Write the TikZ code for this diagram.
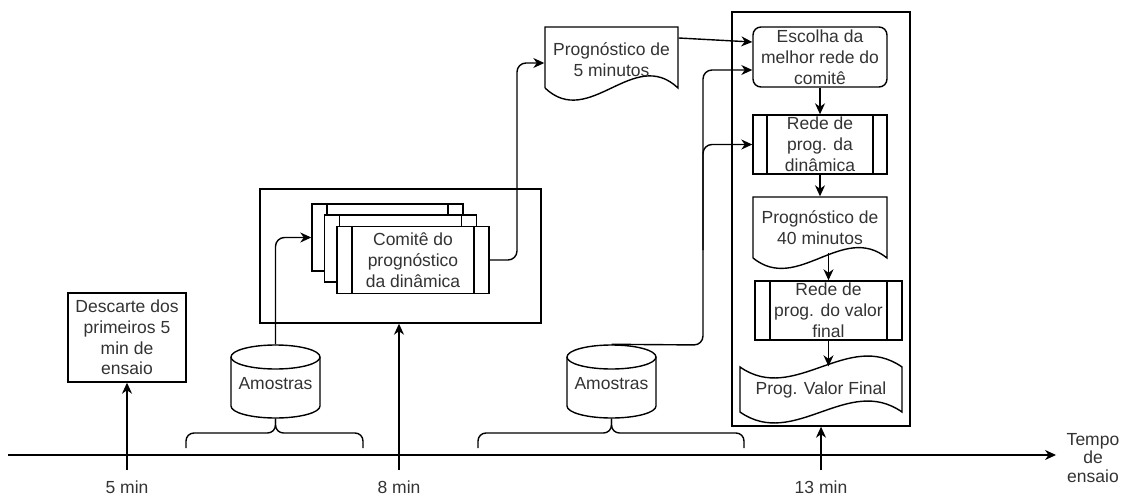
\documentclass[tikz,border=0pt]{standalone}
\usepackage{fontspec}
\setmainfont{Liberation Sans}
\usetikzlibrary{arrows.meta}
\begin{document}
\begin{tikzpicture}[x=1pt,y=-1pt,line width=1.4pt,
  every node/.style={font=\fontsize{17.5}{20.8}\selectfont,text=black!80,align=center,inner sep=0pt},
  arr/.style={-{Stealth[length=11pt,width=10pt,inset=3.5pt]}},
  plainbox/.style={draw,fill=white},
  procbar/.style={path picture={
      \draw ([xshift=#1]path picture bounding box.north west) -- ([xshift=#1]path picture bounding box.south west);
      \draw ([xshift=-#1]path picture bounding box.north east) -- ([xshift=-#1]path picture bounding box.south east);}},
  procbox/.style={draw,fill=white,procbar=#1},
]
% canvas
\useasboundingbox[fill=white] (0,0) rectangle (1125,495);

% time axis
\node[inner xsep=10pt,font=\fontsize{17.5}{18.6}\selectfont] (tempo) at (1093,458) {Tempo\\de\\ensaio};
\coordinate (t0) at (8,455);
\draw[arr] (t0) -- (t0 -| tempo.west);

% tick labels
\node (l5) at (127,487) {5 min};
\node (l8) at (399,487) {8 min};
\node (l13) at (821,487) {13 min};
\coordinate (c5) at (127,470);
\coordinate (c8) at (399,470);
\coordinate (c13) at (821,470);

% discarded start
\node[plainbox,minimum width=118pt,minimum height=89pt] (desc) at (127,337.5)
  {Descarte dos\\primeiros 5\\min de\\ensaio};
\draw[arr] (c5) -- (desc.south);

% committee panel
\node[plainbox,minimum width=281pt,minimum height=134pt] (pan1) at (400.5,256) {};
\draw[arr] (c8) -- (c8 |- pan1.south);
\node[procbox=15pt,minimum width=151pt,minimum height=67pt] (stkA) at (387.5,237.5) {};
\node[procbox=15pt,minimum width=152pt,minimum height=67pt] (stkB) at (400.5,248.5) {};
\node[procbox=15pt,minimum width=152pt,minimum height=67pt] (stkC) at (413,260)
  {Comitê do\\prognóstico\\da dinâmica};

% samples, first window
\node[minimum width=89pt,minimum height=73pt] (am1) at (275.5,381.5) {};
\draw[fill=white] (231,357) -- (231,406) arc[start angle=180,end angle=360,x radius=44.5pt,y radius=12pt] -- (320,357);
\draw (275.5,357) ellipse[x radius=44.5pt,y radius=12pt];
\node at (am1) [yshift=-2pt] {Amostras};
\draw[rounded corners=8pt] (186,448) -- (186,433) -- (275.5,433) -- (am1.south);
\draw[rounded corners=8pt] (363,448) -- (363,433) -- (275.5,433) -- (am1.south);
\draw[arr,rounded corners=9pt] (am1.north) |- (stkA.west);

% 5-minute forecast document
\draw[fill=white] (545,88) -- (545,27) -- (678,27) -- (678,88)
  .. controls (633.7,46) and (589.3,130) .. (545,88);
\node[minimum width=133pt] (doc5) at (611.5,60) {Prognóstico de\\5 minutos};
\coordinate (up5) at (517,63);
\draw[arr,rounded corners=9pt] (stkC.east) -| (up5) -- (doc5.west |- up5);

% final panel
\node[draw,minimum width=178pt,minimum height=414pt] (pan2) at (821,219) {};
\draw[arr] (c13) -- (pan2.south);

\node[draw,fill=white,rounded corners=8pt,minimum width=134pt,minimum height=60pt] (esc) at (820,57)
  {Escolha da\\melhor rede do\\comitê};
\draw[arr] (doc5.east |- 0,38) -- (esc.west |- 0,42);

\node[procbox=14pt,minimum width=134pt,minimum height=59pt] (rede1) at (820,144.5)
  {Rede de\\prog. da\\dinâmica};
\draw[arr] (esc.south) -- (rede1.north);

% 40-minute forecast document
\draw[fill=white] (753,258) -- (753,197) -- (887,197) -- (887,258)
  .. controls (842.3,222) and (797.7,294) .. (753,258);
\node[minimum width=134pt,minimum height=61pt] (doc40) at (820,227.5) {Prognóstico de\\40 minutos};
\draw[arr] (rede1.south) -- (doc40.north);

\node[procbox=15pt,minimum width=147pt,minimum height=59pt] (rede2) at (828.5,310.5)
  {Rede de\\prog. do valor\\final};
\draw[arr] ([yshift=6pt]doc40.south -| rede2.north) -- (rede2.north);

% final value tape
\draw[fill=white] (740,367) .. controls (794,405) and (848,329) .. (902,367) -- (902,412)
  .. controls (848,374) and (794,450) .. (740,412) -- cycle;
\node[minimum width=162pt,minimum height=45pt] (tape) at (821,389.5) {Prog. Valor Final};
\draw[arr] (rede2.south) -- (rede2.south |- tape.north);

% samples, second window
\node[minimum width=89pt,minimum height=73pt] (am2) at (611.5,381.5) {};
\draw[fill=white] (567,357) -- (567,406) arc[start angle=180,end angle=360,x radius=44.5pt,y radius=12pt] -- (656,357);
\draw (611.5,357) ellipse[x radius=44.5pt,y radius=12pt];
\node at (am2) [yshift=-2pt] {Amostras};
\draw[rounded corners=8pt] (478,448) -- (478,433) -- (611.5,433) -- (am2.south);
\draw[rounded corners=8pt] (744,448) -- (744,433) -- (611.5,433) -- (am2.south);
\coordinate (bus) at (703,345);
\coordinate (junc) at (703,250);
\draw[arr,rounded corners=9pt] (am2.north) -- (bus) -- (bus |- 0,70) -- (esc.west |- 0,70);
\draw[arr,rounded corners=9pt] (junc) -- (junc |- rede1.west) -- (rede1.west);
\end{tikzpicture}
\end{document}
